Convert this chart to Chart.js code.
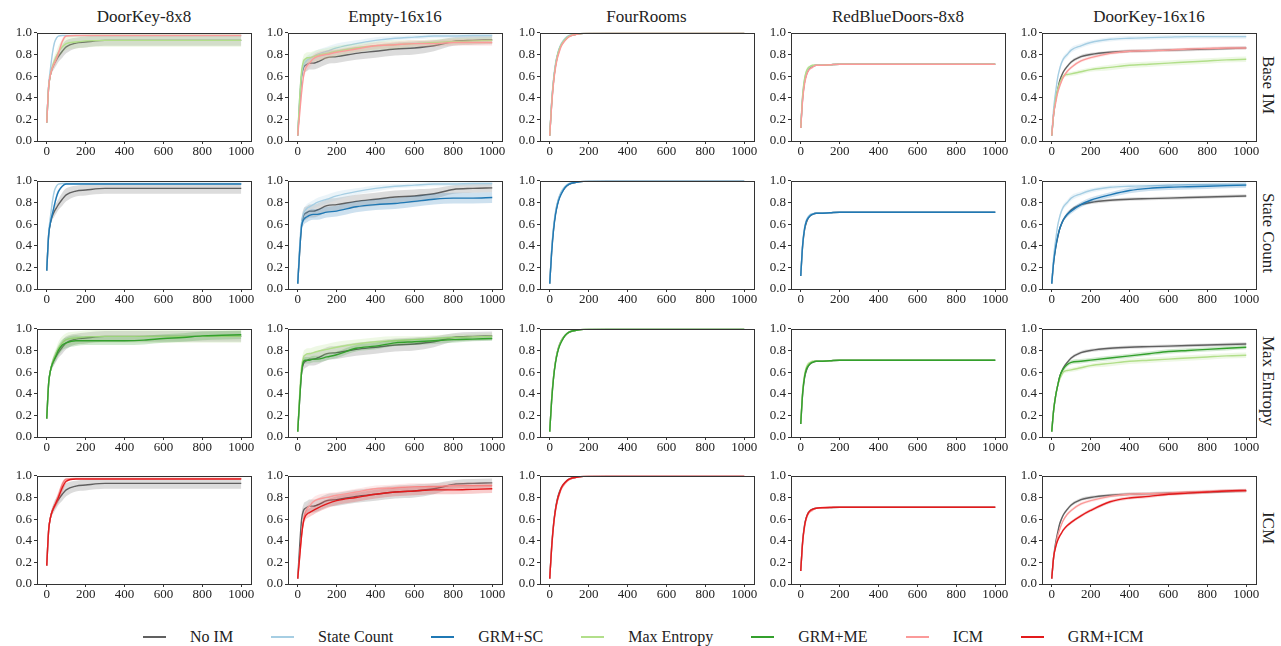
<!DOCTYPE html>
<html lang="en">
<head>
<meta charset="utf-8"/>
<title>Intrinsic motivation curves</title>
<script src="https://cdn.jsdelivr.net/npm/chart.js"></script>
<style>
  body { margin: 0; background: #fff; font-family: "Liberation Serif", "DejaVu Serif", serif; color: #222; }
  #wrap { position: relative; width: 1281px; height: 646px; overflow: hidden; }
  canvas { position: absolute; }
  .title { position: absolute; width: 214px; text-align: center; font-size: 17px; top: 7px; }
  .rowlab { position: absolute; left: 1258px; font-size: 17px; writing-mode: vertical-rl; transform: translateY(-50%); white-space: nowrap; }
  #legend { position: absolute; top: 628px; left: 143px; display: flex; font-size: 16px; }
  .item { display: flex; align-items: center; margin-right: 38px; }
  .item:last-child { margin-right: 0; }
  .item span.line { display: inline-block; width: 23px; height: 2px; margin-right: 24px; }
</style>
</head>
<body>
<div id="wrap"></div>

<script>
  // x positions (episodes) where values were read
  const X = [0, 10, 20, 30, 40, 50, 60, 80, 100, 150, 200, 300, 400, 500, 600, 700, 800, 900, 1000];
  const X_TICKS = [0, 200, 400, 600, 800, 1000];
  const Y_TICKS = [0, 0.2, 0.4, 0.6, 0.8, 1.0];

  const ENVS = ['DoorKey-8x8', 'Empty-16x16', 'FourRooms', 'RedBlueDoors-8x8', 'DoorKey-16x16'];
  const ROWS = ['Base IM', 'State Count', 'Max Entropy', 'ICM'];

  // DoorKey-8x8
  const dk8_noim   = [0.17,0.50,0.62,0.68,0.72,0.75,0.78,0.83,0.87,0.905,0.915,0.93,0.93,0.93,0.93,0.93,0.93,0.93,0.93];
  const dk8_sc     = [0.17,0.52,0.68,0.82,0.91,0.95,0.97,0.975,0.975,0.975,0.975,0.975,0.975,0.975,0.975,0.975,0.975,0.975,0.975];
  const dk8_grmsc  = [0.17,0.50,0.62,0.70,0.78,0.85,0.90,0.95,0.97,0.97,0.97,0.97,0.97,0.97,0.97,0.97,0.97,0.97,0.97];
  const dk8_me     = [0.17,0.50,0.62,0.69,0.74,0.78,0.82,0.87,0.90,0.915,0.925,0.93,0.93,0.93,0.93,0.93,0.93,0.93,0.93];
  const dk8_grmme  = [0.17,0.50,0.62,0.68,0.72,0.76,0.80,0.85,0.87,0.89,0.89,0.89,0.89,0.895,0.91,0.92,0.935,0.94,0.945];
  const dk8_icm    = [0.17,0.50,0.62,0.68,0.72,0.76,0.81,0.92,0.97,0.975,0.975,0.975,0.975,0.975,0.975,0.975,0.975,0.975,0.975];
  const dk8_grmicm = [0.17,0.50,0.62,0.68,0.72,0.76,0.80,0.89,0.95,0.97,0.97,0.97,0.97,0.97,0.97,0.97,0.97,0.97,0.97];
  const dk8_noim_sd   = [0,0.02,0.03,0.04,0.05,0.05,0.05,0.06,0.06,0.05,0.05,0.05,0.05,0.05,0.05,0.05,0.05,0.05,0.05];
  const dk8_sc_sd     = [0,0.02,0.03,0.03,0.02,0.01,0.005,0,0,0,0,0,0,0,0,0,0,0,0];
  const dk8_grmsc_sd  = [0,0.02,0.03,0.03,0.03,0.03,0.02,0.01,0.005,0,0,0,0,0,0,0,0,0,0];
  const dk8_me_sd     = [0,0.02,0.03,0.04,0.05,0.05,0.06,0.06,0.06,0.06,0.06,0.06,0.06,0.06,0.06,0.06,0.06,0.06,0.06];
  const dk8_grmme_sd  = [0,0.02,0.03,0.04,0.04,0.05,0.05,0.05,0.05,0.05,0.04,0.04,0.04,0.04,0.04,0.04,0.04,0.04,0.04];
  const dk8_icm_sd    = [0,0.02,0.03,0.03,0.03,0.04,0.04,0.03,0.01,0,0,0,0,0,0,0,0,0,0];
  const dk8_grmicm_sd = [0,0.02,0.03,0.03,0.03,0.04,0.05,0.05,0.02,0.005,0,0,0,0,0,0,0,0,0];

  // Empty-16x16
  const e16_noim   = [0.05,0.35,0.60,0.68,0.70,0.71,0.72,0.72,0.73,0.77,0.78,0.81,0.83,0.85,0.86,0.88,0.92,0.93,0.935];
  const e16_sc     = [0.05,0.40,0.62,0.70,0.73,0.75,0.76,0.78,0.80,0.83,0.86,0.90,0.93,0.95,0.96,0.97,0.97,0.975,0.975];
  const e16_grmsc  = [0.05,0.35,0.58,0.64,0.66,0.67,0.68,0.69,0.69,0.71,0.72,0.76,0.78,0.79,0.81,0.83,0.84,0.84,0.845];
  const e16_me     = [0.05,0.40,0.65,0.74,0.76,0.77,0.77,0.78,0.79,0.81,0.83,0.86,0.88,0.89,0.90,0.91,0.92,0.925,0.93];
  const e16_grmme  = [0.05,0.35,0.60,0.70,0.71,0.71,0.71,0.72,0.72,0.74,0.76,0.82,0.84,0.87,0.88,0.89,0.90,0.905,0.91];
  const e16_icm    = [0.05,0.25,0.45,0.60,0.67,0.70,0.72,0.76,0.78,0.80,0.82,0.85,0.88,0.89,0.90,0.90,0.91,0.91,0.91];
  const e16_grmicm = [0.05,0.25,0.45,0.58,0.63,0.65,0.66,0.68,0.70,0.74,0.77,0.80,0.83,0.85,0.86,0.87,0.87,0.875,0.88];
  const e16_noim_sd   = [0,0.03,0.05,0.06,0.06,0.06,0.06,0.06,0.06,0.06,0.06,0.06,0.06,0.06,0.06,0.05,0.04,0.04,0.04];
  const e16_sc_sd     = [0,0.03,0.04,0.04,0.04,0.04,0.04,0.04,0.04,0.04,0.04,0.03,0.03,0.02,0.02,0.02,0.02,0.02,0.02];
  const e16_grmsc_sd  = [0,0.03,0.04,0.05,0.05,0.05,0.05,0.05,0.05,0.05,0.05,0.05,0.05,0.05,0.05,0.05,0.05,0.05,0.05];
  const e16_me_sd     = [0,0.03,0.05,0.05,0.05,0.05,0.05,0.05,0.05,0.05,0.05,0.04,0.04,0.04,0.03,0.03,0.03,0.03,0.03];
  const e16_grmme_sd  = [0,0.02,0.03,0.03,0.03,0.03,0.03,0.03,0.03,0.03,0.03,0.03,0.03,0.03,0.03,0.03,0.03,0.02,0.02];
  const e16_icm_sd    = [0,0.03,0.04,0.04,0.04,0.04,0.04,0.04,0.04,0.04,0.03,0.03,0.03,0.03,0.03,0.03,0.03,0.03,0.03];
  const e16_grmicm_sd = [0,0.03,0.04,0.04,0.04,0.04,0.04,0.04,0.04,0.04,0.04,0.04,0.04,0.04,0.04,0.04,0.04,0.04,0.04];

  // FourRooms
  const fr_noim   = [0.05,0.35,0.56,0.70,0.79,0.85,0.89,0.94,0.97,0.99,0.998,1,1,1,1,1,1,1,1];
  const fr_sc     = [0.05,0.37,0.58,0.72,0.80,0.86,0.90,0.95,0.975,0.992,0.998,1,1,1,1,1,1,1,1];
  const fr_grmsc  = [0.05,0.34,0.55,0.69,0.78,0.84,0.88,0.94,0.97,0.99,0.998,1,1,1,1,1,1,1,1];
  const fr_me     = [0.05,0.35,0.56,0.70,0.79,0.85,0.89,0.94,0.97,0.99,0.998,1,1,1,1,1,1,1,1];
  const fr_grmme  = [0.05,0.34,0.55,0.69,0.78,0.84,0.88,0.94,0.97,0.99,0.998,1,1,1,1,1,1,1,1];
  const fr_icm    = [0.05,0.33,0.54,0.68,0.77,0.83,0.88,0.93,0.965,0.99,0.998,1,1,1,1,1,1,1,1];
  const fr_grmicm = [0.05,0.34,0.55,0.69,0.78,0.84,0.89,0.94,0.97,0.99,0.998,1,1,1,1,1,1,1,1];
  const fr_sd     = [0,0.02,0.03,0.03,0.03,0.02,0.02,0.01,0.01,0.005,0,0,0,0,0,0,0,0,0];

  // RedBlueDoors-8x8
  const rb_noim   = [0.12,0.40,0.55,0.62,0.66,0.68,0.69,0.70,0.70,0.705,0.71,0.71,0.71,0.71,0.71,0.71,0.71,0.71,0.71];
  const rb_sc     = [0.12,0.42,0.57,0.64,0.67,0.69,0.695,0.70,0.70,0.705,0.71,0.71,0.71,0.71,0.71,0.71,0.71,0.71,0.71];
  const rb_grmsc  = [0.12,0.41,0.56,0.63,0.66,0.68,0.69,0.70,0.70,0.705,0.71,0.71,0.71,0.71,0.71,0.71,0.71,0.71,0.71];
  const rb_me     = [0.12,0.43,0.58,0.65,0.68,0.69,0.70,0.70,0.70,0.705,0.71,0.71,0.71,0.71,0.71,0.71,0.71,0.71,0.71];
  const rb_grmme  = [0.12,0.41,0.56,0.63,0.66,0.68,0.69,0.70,0.70,0.705,0.71,0.71,0.71,0.71,0.71,0.71,0.71,0.71,0.71];
  const rb_icm    = [0.12,0.38,0.53,0.61,0.65,0.67,0.68,0.70,0.70,0.705,0.71,0.71,0.71,0.71,0.71,0.71,0.71,0.71,0.71];
  const rb_grmicm = [0.12,0.39,0.54,0.62,0.66,0.68,0.69,0.70,0.705,0.71,0.71,0.71,0.71,0.71,0.71,0.71,0.71,0.71,0.71];
  const rb_sd     = [0,0.02,0.02,0.02,0.015,0.01,0.01,0.005,0.005,0,0,0,0,0,0,0,0,0,0];

  // DoorKey-16x16
  const dk16_noim   = [0.05,0.25,0.38,0.47,0.55,0.60,0.64,0.69,0.73,0.78,0.80,0.82,0.83,0.835,0.84,0.845,0.85,0.855,0.86];
  const dk16_sc     = [0.05,0.30,0.45,0.58,0.66,0.72,0.76,0.80,0.84,0.88,0.91,0.94,0.95,0.955,0.96,0.965,0.965,0.965,0.965];
  const dk16_grmsc  = [0.05,0.25,0.38,0.48,0.55,0.60,0.64,0.69,0.72,0.78,0.82,0.87,0.91,0.93,0.94,0.945,0.95,0.955,0.96];
  const dk16_me     = [0.05,0.25,0.38,0.47,0.53,0.57,0.60,0.615,0.62,0.64,0.66,0.68,0.70,0.71,0.72,0.73,0.74,0.75,0.755];
  const dk16_grmme  = [0.05,0.25,0.38,0.47,0.55,0.60,0.63,0.67,0.69,0.70,0.71,0.73,0.75,0.77,0.79,0.80,0.81,0.82,0.83];
  const dk16_icm    = [0.05,0.25,0.35,0.44,0.50,0.55,0.59,0.645,0.68,0.74,0.77,0.81,0.83,0.835,0.84,0.85,0.855,0.86,0.86];
  const dk16_grmicm = [0.05,0.25,0.34,0.40,0.44,0.47,0.50,0.54,0.57,0.63,0.68,0.76,0.795,0.81,0.83,0.84,0.85,0.86,0.865];
  const dk16_noim_sd   = [0,0.01,0.015,0.015,0.015,0.015,0.015,0.015,0.015,0.015,0.015,0.015,0.015,0.015,0.015,0.015,0.015,0.015,0.015];
  const dk16_sc_sd     = [0,0.02,0.02,0.025,0.025,0.025,0.025,0.025,0.025,0.02,0.02,0.02,0.02,0.02,0.02,0.02,0.02,0.02,0.02];
  const dk16_grmsc_sd  = [0,0.015,0.02,0.02,0.02,0.02,0.02,0.025,0.025,0.025,0.025,0.025,0.025,0.025,0.025,0.025,0.025,0.025,0.025];
  const dk16_me_sd     = [0,0.015,0.02,0.02,0.02,0.02,0.02,0.02,0.02,0.02,0.02,0.025,0.025,0.025,0.025,0.025,0.025,0.025,0.025];
  const dk16_grmme_sd  = [0,0.015,0.02,0.02,0.02,0.02,0.02,0.02,0.02,0.02,0.02,0.02,0.02,0.02,0.02,0.02,0.02,0.02,0.02];
  const dk16_icm_sd    = [0,0.015,0.015,0.015,0.015,0.015,0.015,0.015,0.015,0.015,0.015,0.015,0.015,0.015,0.015,0.015,0.015,0.015,0.015];
  const dk16_grmicm_sd = [0,0.015,0.015,0.015,0.015,0.015,0.015,0.015,0.015,0.015,0.015,0.015,0.015,0.015,0.015,0.015,0.015,0.015,0.015];

  const SERIES = ['noim', 'sc', 'grmsc', 'me', 'grmme', 'icm', 'grmicm'];
  const SERIES_LABELS = ['No IM', 'State Count', 'GRM+SC', 'Max Entropy', 'GRM+ME', 'ICM', 'GRM+ICM'];
  const COLORS = {
    noim: [96, 96, 96], sc: [166, 206, 227], grmsc: [31, 120, 180],
    me: [178, 223, 138], grmme: [51, 160, 44], icm: [251, 154, 153], grmicm: [227, 26, 28]
  };

  // lookup tables built from the arrays above
  const envData = [
    { noim: dk8_noim, sc: dk8_sc, grmsc: dk8_grmsc, me: dk8_me, grmme: dk8_grmme, icm: dk8_icm, grmicm: dk8_grmicm },
    { noim: e16_noim, sc: e16_sc, grmsc: e16_grmsc, me: e16_me, grmme: e16_grmme, icm: e16_icm, grmicm: e16_grmicm },
    { noim: fr_noim, sc: fr_sc, grmsc: fr_grmsc, me: fr_me, grmme: fr_grmme, icm: fr_icm, grmicm: fr_grmicm },
    { noim: rb_noim, sc: rb_sc, grmsc: rb_grmsc, me: rb_me, grmme: rb_grmme, icm: rb_icm, grmicm: rb_grmicm },
    { noim: dk16_noim, sc: dk16_sc, grmsc: dk16_grmsc, me: dk16_me, grmme: dk16_grmme, icm: dk16_icm, grmicm: dk16_grmicm }
  ];
  const envSd = [
    { noim: dk8_noim_sd, sc: dk8_sc_sd, grmsc: dk8_grmsc_sd, me: dk8_me_sd, grmme: dk8_grmme_sd, icm: dk8_icm_sd, grmicm: dk8_grmicm_sd },
    { noim: e16_noim_sd, sc: e16_sc_sd, grmsc: e16_grmsc_sd, me: e16_me_sd, grmme: e16_grmme_sd, icm: e16_icm_sd, grmicm: e16_grmicm_sd },
    { noim: fr_sd, sc: fr_sd, grmsc: fr_sd, me: fr_sd, grmme: fr_sd, icm: fr_sd, grmicm: fr_sd },
    { noim: rb_sd, sc: rb_sd, grmsc: rb_sd, me: rb_sd, grmme: rb_sd, icm: rb_sd, grmicm: rb_sd },
    { noim: dk16_noim_sd, sc: dk16_sc_sd, grmsc: dk16_grmsc_sd, me: dk16_me_sd, grmme: dk16_grmme_sd, icm: dk16_icm_sd, grmicm: dk16_grmicm_sd }
  ];

  // which series each row shows, topmost first
  const rowSeries = [
    ['icm', 'me', 'sc', 'noim'],
    ['grmsc', 'sc', 'noim'],
    ['grmme', 'me', 'noim'],
    ['grmicm', 'icm', 'noim']
  ];

  const colLeft = [37, 288, 539.5, 791, 1042];
  const rowTop = [29, 176.7, 324.5, 472];
  const PW = 214, PH = 112, AXW = 37, AXH = 22, PADT = 6, PADR = 12;

  const frame = {
    id: 'frame',
    afterDraw(chart) {
      const a = chart.chartArea, c = chart.ctx;
      c.save();
      c.strokeStyle = '#333';
      c.lineWidth = 1;
      c.strokeRect(Math.round(a.left) + 0.5, Math.round(a.top) + 0.5, Math.round(a.right - a.left), Math.round(a.bottom - a.top));
      c.restore();
    }
  };

  const rgba = (c, a) => `rgba(${c[0]},${c[1]},${c[2]},${a})`;
  const wrap = document.getElementById('wrap');

  ENVS.forEach((env, ci) => {
    const t = document.createElement('div');
    t.className = 'title';
    t.style.left = colLeft[ci] + 'px';
    t.textContent = env;
    wrap.appendChild(t);
  });

  ROWS.forEach((r, ri) => {
    const d = document.createElement('div');
    d.className = 'rowlab';
    d.style.top = (rowTop[ri] + PH / 2) + 'px';
    d.textContent = r;
    wrap.appendChild(d);
  });

  for (let ri = 0; ri < ROWS.length; ri++) {
    for (let ci = 0; ci < ENVS.length; ci++) {
      const cv = document.createElement('canvas');
      cv.width = AXW + PW + PADR;
      cv.height = PADT + PH + AXH;
      cv.style.left = (colLeft[ci] - AXW) + 'px';
      cv.style.top = (rowTop[ri] - PADT) + 'px';
      wrap.appendChild(cv);

      const datasets = [];
      rowSeries[ri].forEach(key => {
        const m = envData[ci][key], sd = envSd[ci][key], col = COLORS[key];
        datasets.push({
          data: X.map((x, i) => ({ x, y: m[i] })),
          borderColor: rgba(col, 1), borderWidth: 1.4, pointRadius: 0, fill: false,
          cubicInterpolationMode: 'monotone'
        });
        datasets.push({
          data: X.map((x, i) => ({ x, y: Math.min(1, m[i] + sd[i]) })),
          borderWidth: 0, pointRadius: 0, fill: '+1', backgroundColor: rgba(col, 0.22),
          cubicInterpolationMode: 'monotone'
        });
        datasets.push({
          data: X.map((x, i) => ({ x, y: m[i] - sd[i] })),
          borderWidth: 0, pointRadius: 0, fill: false,
          cubicInterpolationMode: 'monotone'
        });
      });

      new Chart(cv, {
        type: 'line',
        data: { datasets },
        plugins: [frame],
        options: {
          responsive: false, animation: false, devicePixelRatio: 1,
          layout: { padding: { top: PADT, right: PADR, left: 0, bottom: 0 } },
          plugins: { legend: { display: false }, tooltip: { enabled: false } },
          scales: {
            x: {
              type: 'linear', min: -50, max: 1050,
              afterBuildTicks: s => { s.ticks = X_TICKS.map(v => ({ value: v })); },
              afterFit: s => { s.height = AXH; },
              grid: { display: true, drawOnChartArea: false, drawTicks: true, tickLength: 3, color: '#333' },
              border: { display: false },
              ticks: { padding: 0, maxRotation: 0, color: '#222', font: { family: 'Liberation Serif', size: 13 }, callback: v => String(v) }
            },
            y: {
              type: 'linear', min: 0, max: 1,
              afterBuildTicks: s => { s.ticks = Y_TICKS.map(v => ({ value: v })); },
              afterFit: s => { s.width = AXW; },
              grid: { display: true, drawOnChartArea: false, drawTicks: true, tickLength: 3, color: '#333' },
              border: { display: false },
              ticks: { padding: 2, color: '#222', font: { family: 'Liberation Serif', size: 13 }, callback: v => v.toFixed(1) }
            }
          }
        }
      });
    }
  }

  // legend
  const leg = document.createElement('div');
  leg.id = 'legend';
  SERIES.forEach((key, i) => {
    const it = document.createElement('div');
    it.className = 'item';
    const ln = document.createElement('span');
    ln.className = 'line';
    ln.style.background = rgba(COLORS[key], 1);
    const tx = document.createElement('span');
    tx.textContent = SERIES_LABELS[i];
    it.appendChild(ln);
    it.appendChild(tx);
    leg.appendChild(it);
  });
  wrap.appendChild(leg);
</script>
</body>
</html>
